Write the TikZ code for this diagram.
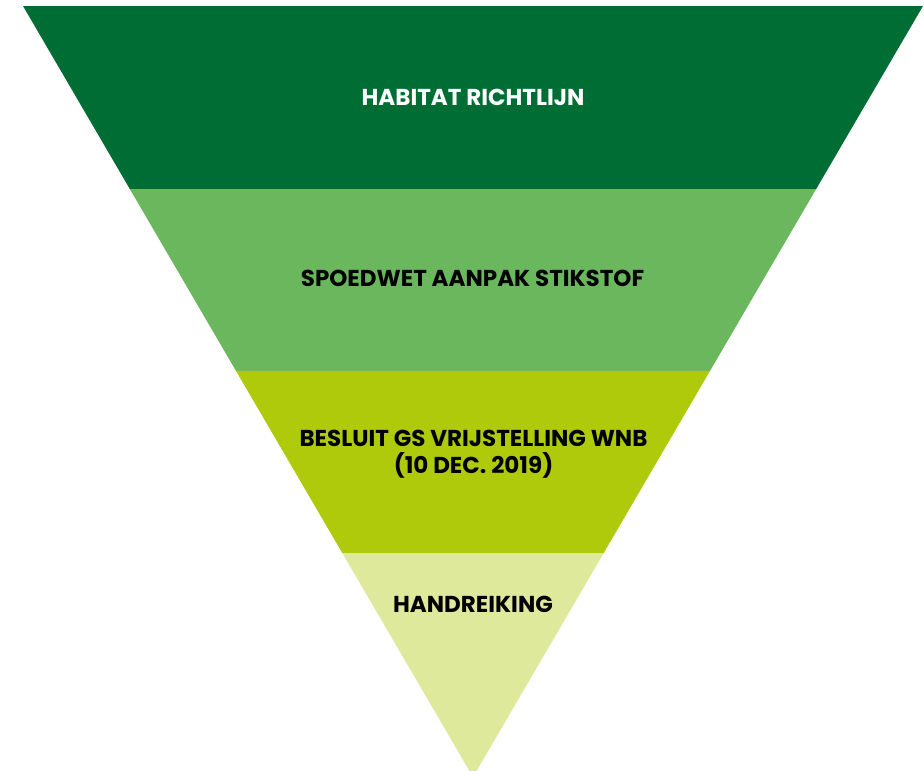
\documentclass[tikz,border=0pt]{standalone}
\usepackage{fontspec}
\setmainfont{Poppins}
\usepackage{xcolor}
\usetikzlibrary{calc, positioning}

\definecolor{habgreen}{RGB}{0,110,52}
\definecolor{spoedgreen}{RGB}{106,183,94}
\definecolor{besluitlime}{RGB}{175,202,10}
\definecolor{handpale}{RGB}{223,233,156}

\begin{document}
\begin{tikzpicture}[x=1pt, y=-1pt]
	
	\tikzset{layer label/.style={
			font=\fontsize{23}{27}\selectfont\bfseries,
			align=center,
			inner sep=0pt,
			text=black
		}
	}
	
	\useasboundingbox (0,0) rectangle (924,771);
	\clip (0,0) rectangle (924,771);
	
	\coordinate (tl) at (23,6);
	\coordinate (tr) at (923,6);
	\coordinate (apex) at (473,777);
	\foreach \t [count=\i] in {0.2374,0.4734,0.7095}
	{
		\coordinate (l\i) at ($(tl)!\t!(apex)$);
		\coordinate (r\i) at ($(tr)!\t!(apex)$);
	}
	
	% bands of the funnel
	\fill[habgreen] (tl) -- (tr) -- (r1) -- (l1) -- cycle;
	\fill[spoedgreen] (l1) -- (r1) -- (r2) -- (l2) -- cycle;
	\fill[besluitlime] (l2) -- (r2) -- (r3) -- (l3) -- cycle;
	\fill[handpale] (l3) -- (r3) -- (apex) -- cycle;
	
	\node[layer label, text=white] (habitat) at (473,97) {HABITAT RICHTLIJN};
	\node[layer label] (spoedwet) at (472.5,278) {SPOEDWET AANPAK STIKSTOF};
	\node[layer label] (besluit) at (473.5,454) {BESLUIT GS VRIJSTELLING WNB\\(10 DEC. 2019)};
	\node[layer label] (handreiking) at (473,604) {HANDREIKING};
	
\end{tikzpicture}
\end{document}
